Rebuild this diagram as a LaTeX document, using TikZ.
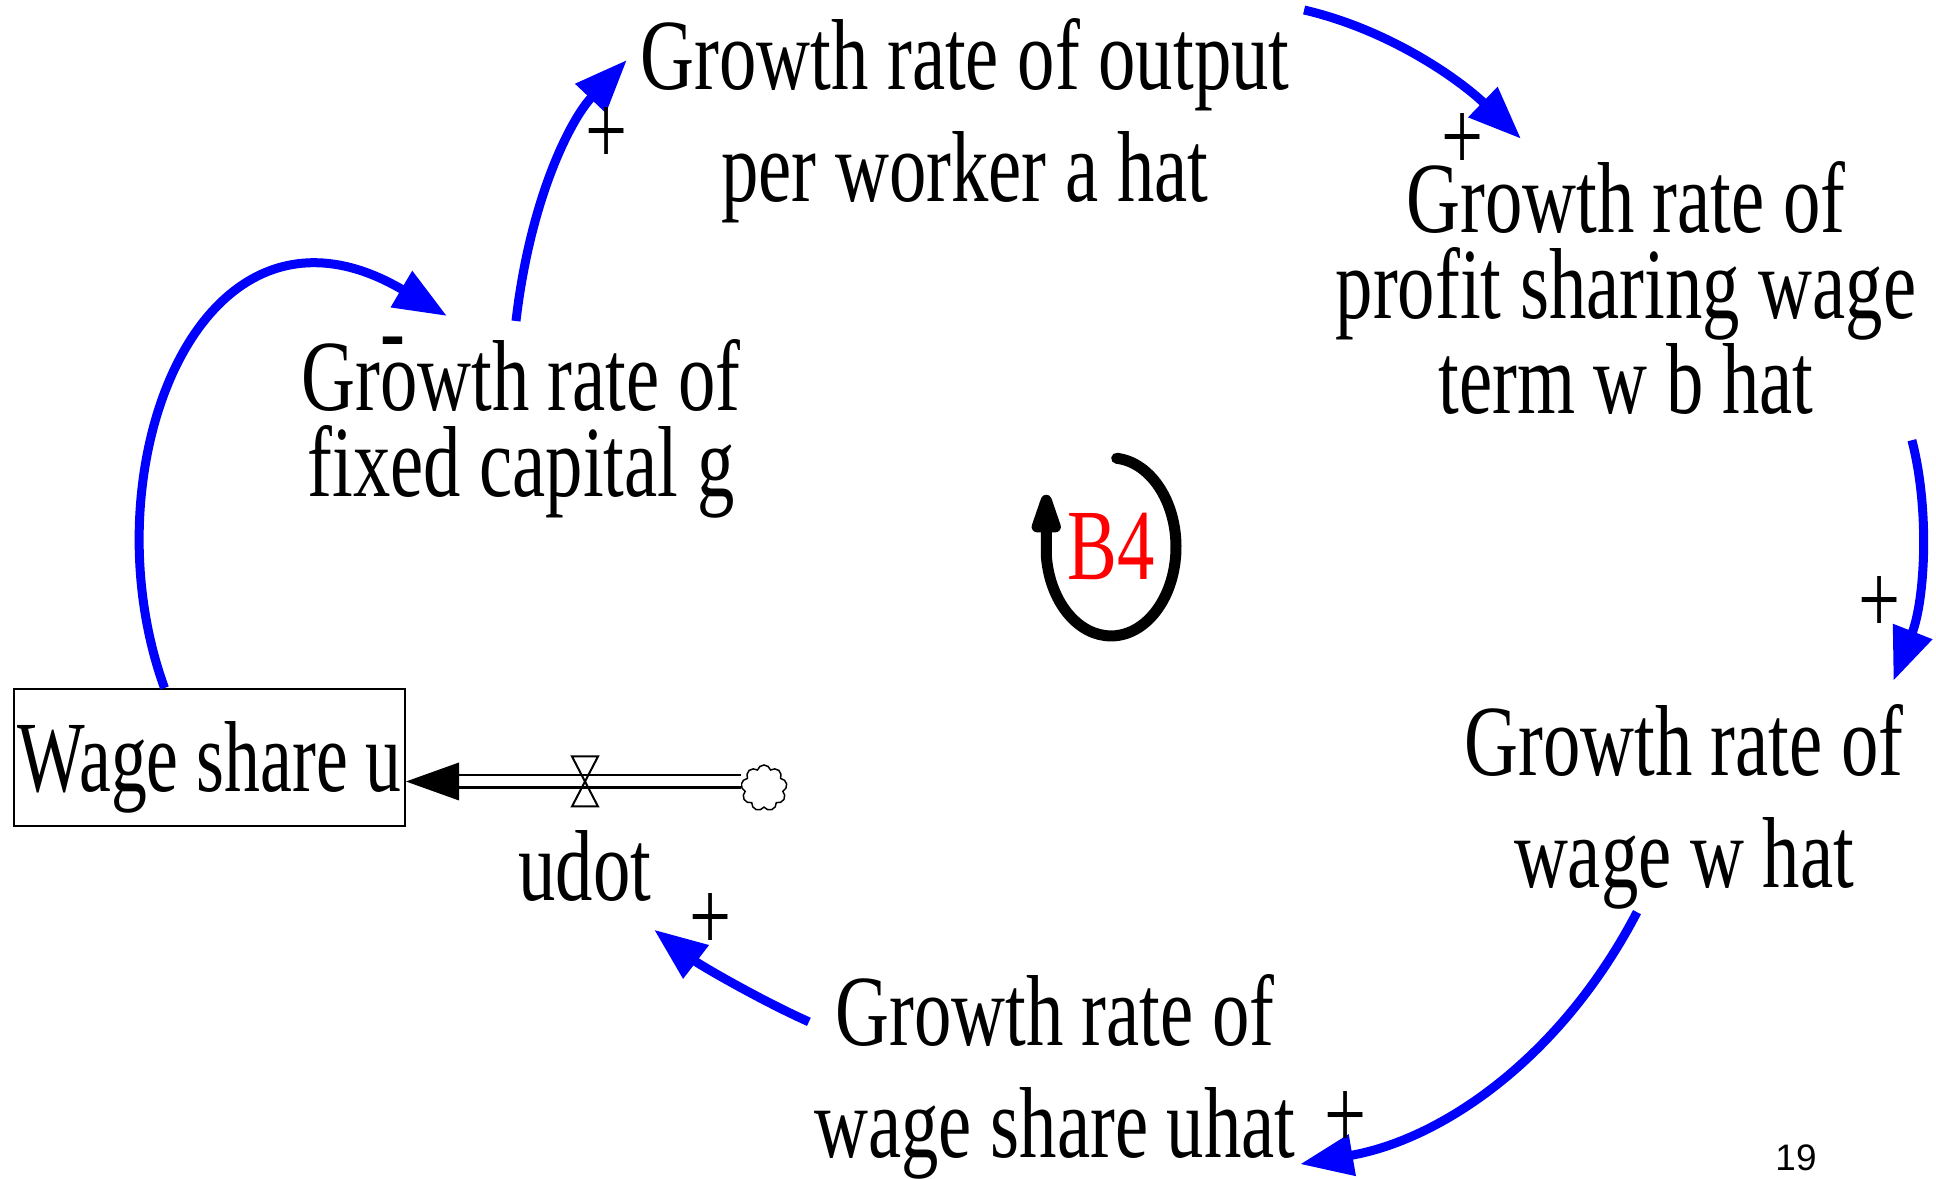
\documentclass[tikz,border=0pt]{standalone}
\usepackage{fontspec}
\usetikzlibrary{calc,arrows.meta,shapes.symbols}
\newfontfamily\etroit[FakeStretch=0.74]{Liberation Serif}
\newfontfamily\pagefont{Liberation Sans}
\definecolor{Bleu}{HTML}{0000FF}
\definecolor{Rouge}{HTML}{FF0000}

\begin{document}
\begin{tikzpicture}[x=1cm,y=1cm,
        txt/.style={inner sep=0pt, align=center, font=\etroit\fontsize{28.7}{31.9}\selectfont},
        serre/.style={txt, font=\etroit\fontsize{28.7}{24.4}\selectfont},
        lien/.style={Bleu, line width=0.09cm, -{Triangle[length=0.53cm,width=0.4cm]}},
        tuyau/.style={line width=0.028cm, double, double distance=0.1cm}]
        \useasboundingbox (0,0) rectangle (19.36,-11.79);
        \node[txt] (output) at (9.65,-1.21) {Growth rate of output\\per worker a hat};
        \node[serre] (profit) at (16.26,-2.88) {Growth rate of\\profit sharing wage\\term w b hat};
        \node[serre] (capital) at (5.21,-4.29) {Growth rate of\\fixed capital g};
        \node[txt] (wage) at (16.84,-8.07) {Growth rate of\\wage w hat};
        \node[txt] (uhat) at (10.55,-10.77) {Growth rate of\\wage share uhat};
        \node[txt, anchor=base] (udot) at (5.85,-9.01) {udot};
        \node[txt, draw, line width=0.02cm, minimum width=3.91cm, minimum height=1.37cm,
          text height=0.69cm, text depth=0pt] (ushare) at (2.095,-7.575) {\scalebox{0.96}[1]{Wage share u}};
        \node[txt, anchor=base, text=Rouge] (b4) at (11.11,-5.80) {B4};
        \node[inner sep=0pt, font=\pagefont\fontsize{10.5}{12}\selectfont] (page) at (17.96,-11.58) {19};
        \node[cloud, cloud puffs=9, aspect=1, draw, line width=0.015cm, inner sep=0pt,
          minimum width=0.46cm, minimum height=0.46cm] (nuage) at (7.64,-7.88) {};
        \coordinate (vanne) at (5.85,-7.815);
        \draw[tuyau] (nuage.west |- vanne) -- ([xshift=0.5cm]ushare.east |- vanne);
        \fill (ushare.east |- vanne) -- ++(0.53,0.19) -- ++(0,-0.38) -- cycle;
        \draw[line width=0.02cm] (vanne) -- ++(-0.13,0.25) -- ++(0.26,0) -- cycle
          (vanne) -- ++(-0.13,-0.25) -- ++(0.26,0) -- cycle;
        \draw[lien] ([xshift=-0.45cm]ushare.north) .. controls (0.85,-4.70) and (2.00,-1.70) .. ([shift={(-0.74,0.23)}]capital.north);
        \draw[lien] ([shift={(-0.05,0.18)}]capital.north) .. controls (5.30,-2.00) and (5.70,-1.20) .. ([shift={(-0.13,-0.42)}]output.north west);
        \draw[lien] ([shift={(0.14,0.08)}]output.north east) .. controls (13.90,-0.30) and (14.60,-0.80) .. ([shift={(-1.05,0.22)}]profit.north);
        \draw[lien] ([shift={(-0.05,-0.25)}]profit.south east) .. controls (19.30,-5.10) and (19.25,-6.00) .. ([shift={(-0.11,0.23)}]wage.north east);
        \draw[lien] ([shift={(-0.47,-0.02)}]wage.south) .. controls (15.60,-10.60) and (14.40,-11.40) .. ([shift={(0.04,0.16)}]uhat.south east);
        \draw[lien] ([shift={(-0.05,-0.48)}]uhat.north west) .. controls (7.60,-10.00) and (7.00,-9.65) .. ([shift={(0.02,-0.27)}]udot.south east);
        \draw[line width=0.11cm, line cap=round, -{Triangle[round,length=0.52cm,width=0.3cm]}]
          ([shift={(85:0.65 and 0.89)}]b4.center) arc[start angle=85, end angle=-175, x radius=0.65, y radius=0.89] -- ++(0,0.6);
        \foreach \signe/\px/\py [count=\i] in {+/6.07/-1.36, +/14.63/-1.42, +/18.80/-6.05, +/13.46/-11.20, +/7.11/-9.22}{
          \node[txt] (plus\i) at (\px,\py) {\signe};
        }
        \node[txt] (moins) at (3.93,-3.51) {-};
\end{tikzpicture}
\end{document}
